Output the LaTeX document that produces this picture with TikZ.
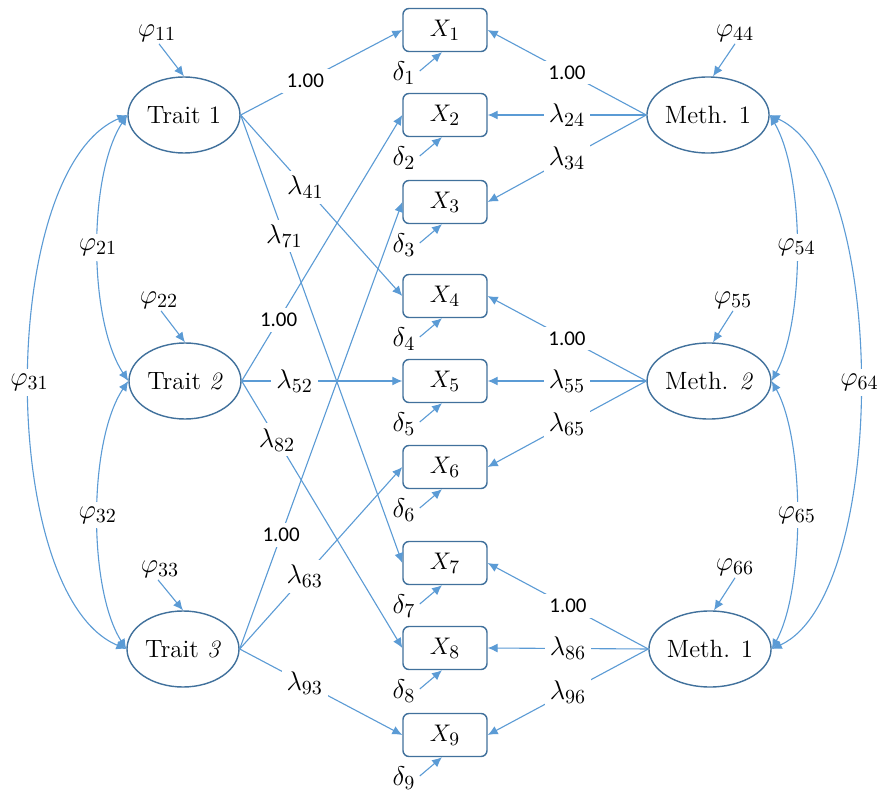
\documentclass[tikz,border=0pt]{standalone}
\usepackage{fix-cm}
\usepackage{fontspec}
\newfontfamily\calib{Carlito}
\usetikzlibrary{shapes.geometric,arrows.meta}
\DeclareMathSizes{12}{12}{9.5}{7}
\DeclareMathSizes{13.5}{13.5}{10}{7.5}
\definecolor{edgeblue}{HTML}{5B9BD5}
\definecolor{borderblue}{HTML}{41719C}
\begin{document}
\begin{tikzpicture}[x=0.5pt,y=-0.5pt,
  latent/.style={ellipse,draw=borderblue,line width=0.7pt,minimum width=56pt,minimum height=38pt,inner sep=0pt,font=\fontsize{12.5}{14}\selectfont},
  obs/.style={draw=borderblue,line width=0.7pt,rounded corners=3pt,minimum width=42pt,minimum height=21.5pt,inner sep=0pt,font=\fontsize{12}{14}\selectfont},
  conn/.style={draw=edgeblue,line width=0.55pt,-{Latex[length=5pt,width=4.5pt]}},
  dconn/.style={conn,{Latex[length=5pt,width=4.5pt]}-{Latex[length=5pt,width=4.5pt]}},
  lab/.style={fill=white,inner sep=2.5pt,font=\fontsize{13.5}{15}\selectfont},
  num/.style={fill=white,inner sep=2.5pt,font=\calib\fontsize{10.5}{12}\selectfont},
  txt/.style={inner sep=1pt,font=\fontsize{13.5}{15}\selectfont}
]
\useasboundingbox[fill=white] (0,0) rectangle (884,791);

% latent variables
\node[latent] (t1) at (184,115) {Trait 1};
\node[latent] (t2) at (185,381) {Trait \textit{2}};
\node[latent] (t3) at (183,649) {Trait \textit{3}};
\node[latent] (m1) at (708,115) {Meth. 1};
\node[latent] (m2) at (709,381) {Meth. \textit{2}};
\node[latent] (m3) at (710,649) {Meth. 1};

% observed variables and errors
\foreach \i/\y in {1/30,2/115,3/202,4/296,5/381,6/467,7/563,8/648,9/735} {
  \node[obs] (x\i) at (445,\y) {$X_{\i}$};
  \node[txt] (d\i) at (404,\y+43) {$\delta_{\i}$};
  \draw[conn] ([shift={(1pt,1pt)}]d\i.east) -- ([xshift=-1.5pt]x\i.south);
}

% variances of latents
\node[txt] (p11) at (157,33) {$\varphi_{11}$};
\node[txt] (p22) at (159,300) {$\varphi_{22}$};
\node[txt] (p33) at (160,569) {$\varphi_{33}$};
\node[txt] (p44) at (735,33) {$\varphi_{44}$};
\node[txt] (p55) at (733,300) {$\varphi_{55}$};
\node[txt] (p66) at (735,567) {$\varphi_{66}$};
\draw[conn] ([xshift=1pt]p11.south) -- (t1.north);
\draw[conn] ([xshift=1pt]p22.south) -- (t2.north);
\draw[conn] ([xshift=-1pt]p33.south) -- (t3.north);
\draw[conn] (p44.south) -- ([xshift=2.5pt]m1.north);
\draw[conn] (p55.south) -- ([xshift=2pt]m2.north);
\draw[conn] (p66.south) -- ([xshift=2pt]m3.north);

% trait loadings
\draw[conn] (t1.east) -- node[num,pos=0.4]{1.00} (x1.west);
\draw[conn] (t1.east) -- node[lab,pos=0.4]{$\lambda_{41}$} (x4.west);
\draw[conn] (t1.east) -- node[lab,pos=0.27]{$\lambda_{71}$} (x7.west);
\draw[conn] (t2.east) -- node[num,pos=0.23]{1.00} (x2.west);
\draw[conn] (t2.east) -- node[lab,pos=0.33]{$\lambda_{52}$} (x5.west);
\draw[conn] (t2.east) -- node[lab,pos=0.22]{$\lambda_{82}$} (x8.west);
\draw[conn] (t3.east) -- node[num,pos=0.255]{1.00} (x3.west);
\draw[conn] (t3.east) -- node[lab,pos=0.4]{$\lambda_{63}$} (x6.west);
\draw[conn] (t3.east) -- node[lab,pos=0.4]{$\lambda_{93}$} (x9.west);

% method loadings
\draw[conn] (m1.west) -- node[num,pos=0.5]{1.00} (x1.east);
\draw[conn] (m1.west) -- node[lab,pos=0.5]{$\lambda_{24}$} (x2.east);
\draw[conn] (m1.west) -- node[lab,pos=0.5]{$\lambda_{34}$} (x3.east);
\draw[conn] (m2.west) -- node[num,pos=0.5]{1.00} (x4.east);
\draw[conn] (m2.west) -- node[lab,pos=0.5]{$\lambda_{55}$} (x5.east);
\draw[conn] (m2.west) -- node[lab,pos=0.5]{$\lambda_{65}$} (x6.east);
\draw[conn] (m3.west) -- node[num,pos=0.5]{1.00} (x7.east);
\draw[conn] (m3.west) -- node[lab,pos=0.5]{$\lambda_{86}$} (x8.east);
\draw[conn] (m3.west) -- node[lab,pos=0.5]{$\lambda_{96}$} (x9.east);

% covariances
\draw[dconn] (t1.west) .. controls (88,175) and (88,320) .. node[lab]{$\varphi_{21}$} (t2.west);
\draw[dconn] (t2.west) .. controls (88,441) and (88,589) .. node[lab]{$\varphi_{32}$} (t3.west);
\draw[dconn] (t1.west) .. controls (-3,170) and (-3,595) .. node[lab]{$\varphi_{31}$} (t3.west);
\draw[dconn] (m1.east) .. controls (805,175) and (805,320) .. node[lab]{$\varphi_{54}$} (m2.east);
\draw[dconn] (m2.east) .. controls (805,441) and (805,589) .. node[lab]{$\varphi_{65}$} (m3.east);
\draw[dconn] (m1.east) .. controls (889,170) and (889,595) .. node[lab]{$\varphi_{64}$} (m3.east);
\end{tikzpicture}
\end{document}
